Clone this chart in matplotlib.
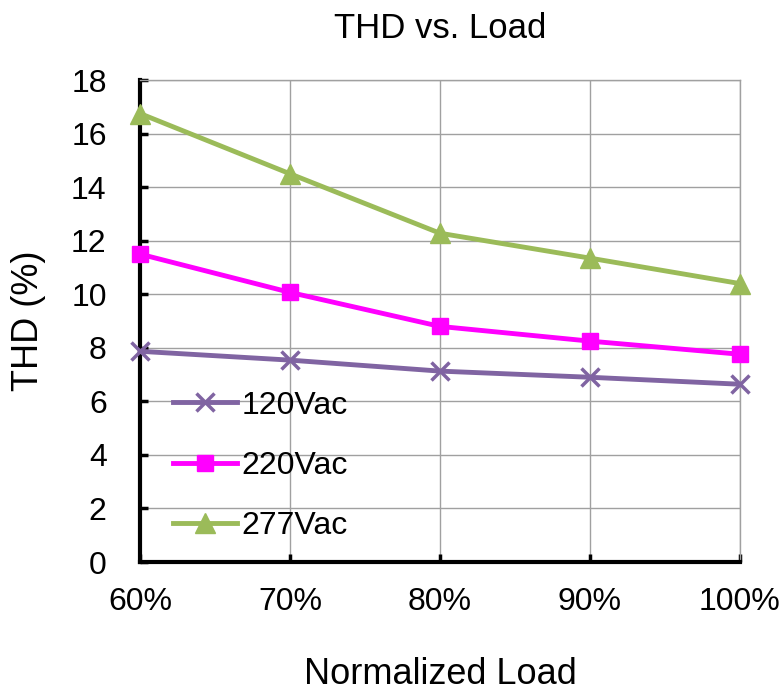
import matplotlib.pyplot as plt

plt.rcParams["font.family"] = ["Liberation Sans", "DejaVu Sans"]

loads = [60, 70, 80, 90, 100]
load_labels = ["60%", "70%", "80%", "90%", "100%"]
thd_120 = [7.87, 7.54, 7.13, 6.9, 6.64]
thd_220 = [11.5, 10.07, 8.8, 8.25, 7.76]
thd_277 = [16.75, 14.5, 12.28, 11.35, 10.4]

fig = plt.figure(figsize=(7.82, 6.96), dpi=100)
ax = fig.add_axes([0.179, 0.1925, 0.767, 0.6925])

ax.plot(loads, thd_120, color="#8064A2", lw=3.5, marker="x", ms=13, mew=2.5, label="120Vac",
        clip_on=False, zorder=3)
ax.plot(loads, thd_220, color="#FF00FF", lw=3.5, marker="s", ms=11, label="220Vac",
        clip_on=False, zorder=3)
ax.plot(loads, thd_277, color="#9BBB59", lw=3.5, marker="^", ms=14, label="277Vac",
        clip_on=False, zorder=3)

ax.set_xlim(60, 100)
ax.set_ylim(0, 18)
ax.set_xticks(loads)
ax.set_xticklabels(load_labels)
ax.set_yticks(range(0, 19, 2))
ax.grid(True, color="#a0a0a0", lw=1)
ax.set_axisbelow(True)

for side in ("top", "right"):
    ax.spines[side].set_color("#a0a0a0")
    ax.spines[side].set_linewidth(1)
for side in ("left", "bottom"):
    ax.spines[side].set_color("black")
    ax.spines[side].set_linewidth(3)

ax.tick_params(direction="in", length=6, width=2.5, labelsize=23, colors="black")
ax.tick_params(axis="x", pad=18)
ax.tick_params(axis="y", pad=24)

ax.set_title("THD vs. Load", fontsize=25, pad=30)
ax.set_ylabel("THD (%)", fontsize=26, labelpad=18)
ax.set_xlabel("Normalized Load", fontsize=26, labelpad=29)

ax.legend(loc="lower left", bbox_to_anchor=(0.012, -0.01), frameon=False, fontsize=23,
          handlelength=2.0, labelspacing=0.95, handletextpad=0.15, borderaxespad=0.4)

fig.savefig("out.png", dpi=100, facecolor="white")
